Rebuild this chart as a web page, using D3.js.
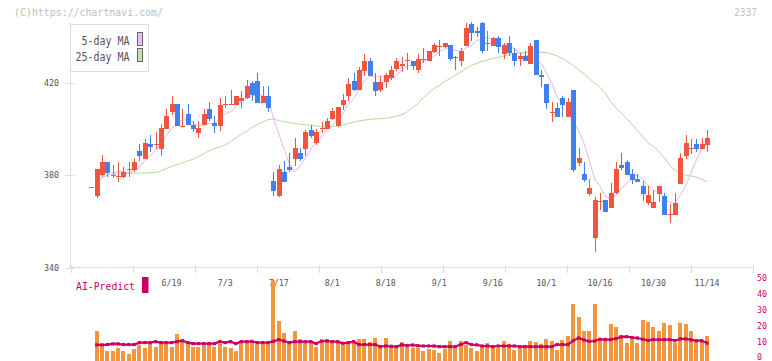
<!DOCTYPE html>
<html><head><meta charset="utf-8">
<script src="https://cdn.jsdelivr.net/npm/d3@7"></script>
<style>html,body{margin:0;padding:0;background:#fff;}svg{display:block;}</style>
</head><body><svg id="c" width="772" height="361"></svg>
<script>
// ---- data ----
const opens = [375.1,371.1,380.2,385.5,380.0,379.3,379.3,382.5,382.2,390.3,
386.9,393.4,393.3,391.2,399.8,407.3,410.6,401.1,406.3,401.5,
398.1,401.9,408.4,402.4,401.2,410.4,410.4,410.5,412.0,413.4,
419.9,420.6,411.3,414.4,377.6,371.1,381.4,383.6,387.2,389.5,
391.2,399.4,393.8,400.1,399.8,404.1,401.2,410.3,414.1,420.6,
417.0,425.2,429.5,420.3,417.0,420.3,422.0,426.0,427.0,429.4,
429.5,425.6,430.2,429.2,433.2,435.4,435.3,436.3,430.8,429.2,
435.6,445.5,442.5,445.8,437.0,435.9,439.2,432.3,437.1,433.0,
430.2,431.3,428.0,438.5,423.4,419.6,407.3,409.1,413.4,405.1,
416.6,385.2,380.4,371.8,352.9,368.5,369.3,365.8,372.3,384.3,
385.7,380.4,378.3,375.4,367.9,365.8,371.8,370.8,363.1,362.9,
376.1,388.3,391.4,393.3,391.2,392.9];
const highs = [375.1,382.6,388.6,385.5,384.3,385.8,383.6,385.5,387.5,393.4,
395.5,397.2,398.7,402.2,408.4,414.4,410.6,408.4,410.6,403.4,
403.3,408.4,411.6,405.5,413.4,414.1,416.6,414.4,416.3,421.3,
420.6,424.2,418.4,418.4,381.2,384.3,386.2,389.5,396.2,391.6,
399.5,401.5,399.8,402.9,404.5,409.1,409.6,415.1,422.0,424.2,
426.6,432.3,430.6,424.2,422.7,424.2,427.0,430.6,430.9,432.8,
429.5,432.3,434.9,433.5,437.1,438.5,437.1,436.3,431.3,434.9,
445.7,446.0,444.2,446.0,442.4,439.5,440.2,437.1,440.2,434.9,
432.8,433.5,437.1,438.5,425.6,419.6,411.5,411.3,414.1,413.4,
416.6,391.6,385.7,378.3,370.4,372.3,369.3,376.6,385.5,389.5,
386.6,382.6,380.4,377.6,375.4,373.5,375.4,372.3,367.5,372.3,
389.5,397.2,395.5,395.5,396.2,399.4];
const lows = [375.1,370.2,379.4,379.4,379.0,377.2,379.0,379.4,381.5,386.2,
386.9,390.1,391.2,388.3,399.8,405.8,401.2,401.1,401.9,398.7,
395.9,401.9,403.4,398.4,399.1,409.1,410.3,410.5,409.1,412.7,
412.0,411.3,411.3,407.2,371.1,370.4,377.1,381.2,384.0,386.2,
388.3,396.2,393.0,398.4,399.8,403.8,401.0,408.0,412.0,416.3,
417.0,422.7,423.0,414.1,416.0,417.7,421.3,424.9,424.6,425.6,
425.6,424.2,428.5,429.2,432.8,431.3,434.9,429.2,425.6,427.0,
435.6,438.1,439.9,433.0,433.8,435.9,432.8,430.2,431.3,427.0,
427.0,429.2,428.0,423.2,418.0,408.8,403.1,405.1,405.1,405.1,
381.2,384.0,377.1,370.8,347.0,365.1,364.2,365.8,371.8,382.3,
380.0,376.1,377.1,369.0,367.1,365.8,368.5,362.9,359.2,362.9,
376.1,386.9,389.0,390.0,391.2,390.0];
const closes = [375.1,382.6,385.5,380.9,380.2,379.5,381.5,382.7,385.5,388.2,
394.1,392.2,393.5,400.2,405.5,410.6,401.2,401.3,401.9,399.8,
400.2,406.3,404.1,401.2,410.5,410.6,410.6,414.4,413.4,418.4,
414.8,411.3,414.4,409.1,373.3,382.6,377.1,382.3,391.6,386.9,
398.6,396.9,398.6,400.3,403.4,407.7,409.4,412.3,419.6,417.0,
425.6,429.5,423.0,416.3,420.3,423.4,425.6,429.5,428.0,429.6,
427.0,430.3,430.4,433.5,436.3,435.6,437.1,430.2,431.0,433.5,
443.5,441.4,441.4,433.8,437.2,439.2,435.2,436.3,433.0,429.2,
431.3,429.2,435.6,423.2,422.3,411.0,407.5,405.1,410.3,411.5,
382.3,387.3,378.0,374.4,369.3,368.7,364.2,372.3,382.6,383.3,
380.0,378.0,377.1,371.8,371.4,368.5,375.4,362.9,363.3,368.2,
387.3,394.1,391.6,391.2,393.3,396.2];
const ma5 = [null,376.2,378.8,380.0,380.9,381.7,381.5,381.0,381.9,383.5,
386.4,388.5,390.7,393.6,397.1,400.4,402.2,403.8,404.1,403.0,
400.9,401.9,402.5,402.3,404.5,406.5,407.4,409.5,411.9,413.5,
414.3,414.5,414.5,413.6,404.6,398.1,391.3,384.9,381.4,384.1,
387.3,391.3,394.5,396.3,399.6,401.4,403.9,406.6,410.5,413.2,
416.8,420.8,422.9,422.3,422.9,422.5,421.7,423.0,425.4,427.2,
427.9,428.9,429.1,430.2,431.5,433.2,434.6,434.5,434.0,433.5,
435.1,435.9,438.2,438.7,439.5,438.6,437.4,436.3,436.2,434.6,
433.0,431.8,431.7,429.7,428.3,424.3,419.9,413.8,411.2,409.1,
403.3,399.3,393.9,386.7,378.3,375.5,370.9,369.8,371.4,374.2,
376.5,379.2,380.2,378.0,375.7,373.4,372.8,370.0,368.3,367.7,
371.4,375.2,380.9,386.5,391.5,393.3];
const ma25 = [null,null,null,null,380.5,380.6,380.7,380.8,380.9,380.9,
381.0,381.1,381.2,381.8,382.9,383.8,384.6,385.4,386.1,386.9,
388.0,389.3,390.5,391.5,392.2,393.0,394.5,396.0,397.6,399.0,
400.5,401.8,403.0,404.0,404.3,403.6,403.1,402.8,402.4,402.0,
401.8,401.6,401.3,401.0,400.8,401.0,401.3,401.8,402.3,402.9,
403.4,403.8,404.1,404.3,404.5,404.6,405.0,405.5,406.1,407.3,
409.2,411.0,413.5,415.6,417.3,418.7,420.4,421.8,423.3,424.6,
426.1,427.5,428.3,429.2,429.8,430.4,430.9,431.5,432.1,432.6,
432.9,433.0,433.1,433.1,433.1,433.0,432.4,431.5,430.4,428.9,
427.5,425.6,423.8,421.8,419.8,418.0,415.5,411.8,409.0,406.8,
404.5,401.9,399.2,396.4,394.0,392.3,390.2,387.5,384.3,382.2,
380.5,380.0,379.7,379.2,378.2,377.2];
const volume = [0,17.3,8.6,4.8,4.4,6.7,4.8,2.9,6.0,8.6,
6.7,9.2,7.3,9.8,9.2,7.3,15.4,11.0,9.2,7.3,
7.3,9.2,9.2,7.3,9.2,7.3,6.7,4.8,10.4,10.4,
11.0,9.2,9.2,9.2,49.2,23.6,16.0,11.0,17.3,12.3,
10.4,10.4,7.3,10.4,12.3,11.0,11.0,8.6,9.2,11.0,
12.3,12.3,10.4,12.9,7.3,12.9,7.3,6.7,10.4,8.6,
6.7,6.7,4.8,6.0,5.4,3.5,6.0,11.0,6.7,11.0,
8.6,6.7,4.8,7.3,9.8,7.3,6.7,11.0,9.2,5.4,
6.7,6.7,11.0,10.4,9.2,12.3,11.0,5.4,11.6,14.1,
34.1,26.0,17.3,17.3,34.1,12.9,12.9,21.7,19.8,14.8,
9.8,14.1,9.8,24.2,23.0,19.8,17.3,22.3,21.1,9.8,
22.3,21.7,17.3,10.4,10.4,14.1];
const aiPredict = [null,8.4,8.4,8.6,9.0,9.0,8.6,8.6,8.6,9.8,
9.8,9.8,10.4,9.8,9.8,9.8,10.4,11.0,9.8,9.2,
9.2,9.2,9.2,9.2,10.4,9.8,10.4,9.2,10.4,10.4,
10.6,9.8,9.8,9.8,10.6,11.6,10.8,9.8,10.4,10.4,
10.4,10.4,9.2,10.8,10.8,10.4,10.4,9.4,9.8,10.4,
8.6,8.6,8.6,8.6,7.3,7.7,7.5,7.3,8.4,8.0,
8.3,7.9,7.7,7.7,7.7,7.3,7.3,7.3,7.3,8.6,
9.8,8.6,8.4,7.7,7.7,7.3,7.7,7.7,7.7,7.7,
7.3,7.3,7.3,7.3,7.3,7.3,7.3,8.6,8.6,8.6,
11.0,12.7,11.5,10.6,10.8,11.9,11.7,11.7,12.3,13.4,
13.5,13.0,12.7,11.9,11.2,11.7,11.7,11.7,11.7,11.0,
12.1,12.1,11.5,11.0,11.0,9.5];
const dateLabels = ["6/19","7/3","7/17","8/1","8/18","9/1","9/16","10/1","10/16","10/30","11/14"];
const dateLabelIndex = [15,25,35,45,55,65,75,85,95,105,115];
const priceTicks = [340,380,420];
const volumeTicks = [0,10,20,30,40,50];
const legendItems = ["5-day MA","25-day MA"];

// ---- drawing ----
const svg = d3.select("#c");
const MONO = "'DejaVu Sans Mono', 'Liberation Mono', monospace";
const RED = "#f0553f", BLUE = "#4280f0";
const n = closes.length;

const x = d3.scaleLinear().domain([0, n - 1]).range([91.3, 707]);
const y = d3.scaleLinear().domain([340, 420]).range([267.8, 82.6]);
const yv = d3.scaleLinear().domain([0, 50]).range([358.3, 278.3]);
const plotL = 70.5, plotR = 752.5;

function label(g, xx, yy, str, size, color, anchor, width) {
  const t = g.append("text").attr("x", xx).attr("y", yy).text(str)
    .attr("font-family", MONO).attr("font-size", size).attr("fill", color)
    .attr("text-anchor", anchor || "start");
  if (width) t.attr("textLength", width).attr("lengthAdjust", "spacingAndGlyphs");
  return t;
}

// header
label(svg, 14, 16, "(C)https://chartnavi.com/", 10, "#bdbdbd", "start", 149);
label(svg, 757, 16, "2337", 10.5, "#c4c4c4", "end", 23);

// axes (main)
const ax = svg.append("g").attr("shape-rendering", "crispEdges");
ax.append("line").attr("x1", plotL).attr("x2", plotL).attr("y1", 23).attr("y2", y(340))
  .attr("stroke", "#dedede");
ax.append("line").attr("x1", plotL).attr("x2", plotR).attr("y1", y(340)).attr("y2", y(340))
  .attr("stroke", "#dedede");
const gridX = d3.scaleLinear().domain([0, 11]).range([plotL, plotR]);
d3.range(0, 12).forEach(k => {
  ax.append("line").attr("x1", Math.round(gridX(k)) + 0.5).attr("x2", Math.round(gridX(k)) + 0.5)
    .attr("y1", y(340) - 3).attr("y2", y(340) + 5).attr("stroke", "#dedede");
});
priceTicks.forEach(p => {
  ax.append("line").attr("x1", 65).attr("x2", 75).attr("y1", Math.round(y(p)) + 0.5)
    .attr("y2", Math.round(y(p)) + 0.5).attr("stroke", "#dedede");
  label(svg, 59, y(p) + 3, String(p), 8.5, "#555", "end", 15);
});
dateLabels.forEach((s, k) => {
  label(svg, x(dateLabelIndex[k]), 285.5, s, 8.5, "#555", "middle", s.length * 5);
});

// moving averages
const lineGen = arr => d3.line().defined(d => d != null).x((d, i) => x(i)).y(d => y(d))(arr);
svg.append("path").attr("d", lineGen(ma25)).attr("fill", "none").attr("stroke", "#b2d9a2")
  .attr("stroke-width", 1);
svg.append("path").attr("d", lineGen(ma5)).attr("fill", "none").attr("stroke", "#e9b4ea")
  .attr("stroke-width", 1);

// candles
const cg = svg.append("g").attr("shape-rendering", "crispEdges");
closes.forEach((c, i) => {
  const o = opens[i], col = c >= o ? RED : BLUE;
  const cx = Math.round(x(i));
  if (highs[i] > lows[i]) {
    cg.append("rect").attr("x", cx).attr("width", 1)
      .attr("y", y(highs[i])).attr("height", y(lows[i]) - y(highs[i])).attr("fill", col);
  }
  const top = y(Math.max(o, c)), bot = y(Math.min(o, c));
  cg.append("rect").attr("x", cx - 2).attr("width", 5)
    .attr("y", top).attr("height", Math.max(1, bot - top)).attr("fill", col);
});

// legend
const lg = svg.append("g");
lg.append("rect").attr("x", 70.5).attr("y", 24.5).attr("width", 78).attr("height", 47)
  .attr("fill", "#fff").attr("stroke", "#dcdcdc").attr("shape-rendering", "crispEdges");
const swatch = ["#f0baf0", "#c0e2b2"];
legendItems.forEach((s, k) => {
  label(lg, 129.5, 45 + k * 16, s, 11.5, "#555", "end", s.length * 6);
  lg.append("rect").attr("x", 137.5).attr("y", 32.5 + k * 16).attr("width", 5).attr("height", 13)
    .attr("fill", swatch[k]).attr("stroke", "#666").attr("shape-rendering", "crispEdges");
});

// volume panel
const vg = svg.append("g").attr("shape-rendering", "crispEdges");
volume.forEach((v, i) => {
  if (!v) return;
  vg.append("rect").attr("x", x(i) - 2).attr("width", 4)
    .attr("y", yv(v)).attr("height", 361 - yv(v)).attr("fill", "#f2963e");
});
const aiLine = d3.line().defined(d => d != null).x((d, i) => x(i)).y(d => yv(d));
svg.append("path").attr("d", aiLine(aiPredict)).attr("fill", "none")
  .attr("stroke", "#cc0066").attr("stroke-width", 2.2);
aiPredict.forEach((v, i) => {
  if (v == null) return;
  svg.append("rect").attr("x", x(i) - 1.6).attr("y", yv(v) - 1.6).attr("width", 3.2)
    .attr("height", 3.2).attr("fill", "#cc0066");
});
volumeTicks.forEach(t => {
  const yy = Math.min(yv(t) + 3, 360);
  label(svg, 757, yy, String(t), 8.5, "#cc0066", "start", String(t).length * 5);
});
label(svg, 76, 290, "AI-Predict", 11, "#cc0066", "start", 59);
svg.append("rect").attr("x", 142).attr("y", 277).attr("width", 6.5).attr("height", 16)
  .attr("fill", "#cc0066");
</script>
</body></html>
